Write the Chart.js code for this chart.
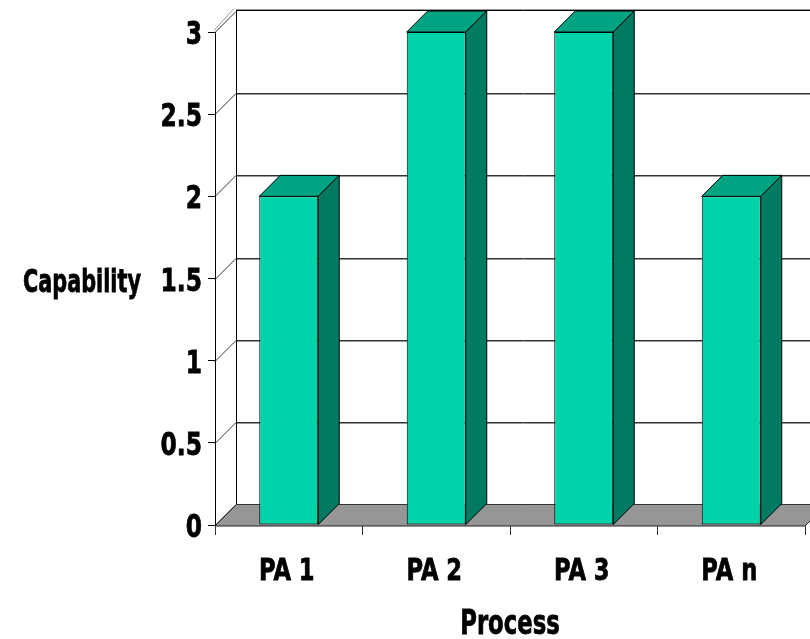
<!DOCTYPE html>
<html>
<head>
<meta charset="utf-8">
<script src="https://cdn.jsdelivr.net/npm/chart.js@4/dist/chart.umd.min.js"></script>
<style>
  html, body { margin: 0; padding: 0; background: #fff; }
  #wrap { width: 810px; height: 639px; }
</style>
</head>
<body>
<div id="wrap"><canvas id="capChart" width="810" height="639"></canvas></div>
<script>
// chart values
const categories = ['PA 1', 'PA 2', 'PA 3', 'PA n'];
const capability = [2, 3, 3, 2];
const yTicks = [0, 0.5, 1, 1.5, 2, 2.5, 3];

const FONT = '"DejaVu Sans", sans-serif';
const DX = 21, DY = 21;           // depth of the box
const FRONT = '#00d2aa', TOP = '#00a482', SIDE = '#007a60';

// labels are drawn narrow and heavy
function narrowText(ctx, text, x, y, align, size, squeeze) {
  ctx.save();
  ctx.font = 'bold ' + size + 'px ' + FONT;
  ctx.fillStyle = '#000';
  ctx.strokeStyle = '#000';
  ctx.lineWidth = 0.8;
  ctx.textAlign = align;
  ctx.textBaseline = 'alphabetic';
  ctx.translate(x, y);
  ctx.scale(squeeze || 0.73, 1);
  ctx.fillText(text, 0, 0);
  ctx.strokeText(text, 0, 0);
  ctx.restore();
}

function hline(ctx, x0, y0, x1, dark, light) {
  ctx.strokeStyle = dark;
  ctx.beginPath(); ctx.moveTo(x0, y0 + 0.5); ctx.lineTo(x1, y0 + 0.5); ctx.stroke();
  ctx.strokeStyle = light;
  ctx.beginPath(); ctx.moveTo(x0, y0 + 1.5); ctx.lineTo(x1, y0 + 1.5); ctx.stroke();
}

// back wall, floor and the 3d faces of the bars
const box3d = {
  id: 'box3d',
  beforeDatasetsDraw(chart) {
    const ctx = chart.ctx, a = chart.chartArea, y = chart.scales.y;
    ctx.save();
    ctx.lineWidth = 1;
    // floor
    ctx.fillStyle = '#969696';
    ctx.strokeStyle = '#222';
    ctx.beginPath();
    ctx.moveTo(a.left, a.bottom + 1);
    ctx.lineTo(a.right, a.bottom + 1);
    ctx.lineTo(a.right + DX, a.bottom - DY + 1);
    ctx.lineTo(a.left + DX, a.bottom - DY + 1);
    ctx.closePath();
    ctx.fill();
    ctx.stroke();
    // gridlines on the back wall
    yTicks.forEach(v => {
      const py = Math.round(y.getPixelForValue(v));
      ctx.strokeStyle = '#333';
      ctx.beginPath();
      ctx.moveTo(a.left, py + 0.5);
      ctx.lineTo(a.left + DX, py - DY + 0.5);
      ctx.stroke();
      if (v === yTicks[yTicks.length - 1]) {
        hline(ctx, a.left + DX, py - DY - 2, chart.width + 30, '#999', '#000');
        ctx.strokeStyle = '#999';
        ctx.beginPath();
        ctx.moveTo(a.left - 1, py - 1.5);
        ctx.lineTo(a.left + DX - 2, py - DY - 2.5);
        ctx.stroke();
      } else {
        hline(ctx, a.left + DX, py - DY, chart.width + 30, '#333', '#999');
      }
    });
    // left edge of the back wall
    ctx.strokeStyle = '#000';
    ctx.beginPath();
    ctx.moveTo(a.left + DX + 0.5, a.top - DY);
    ctx.lineTo(a.left + DX + 0.5, a.bottom - DY);
    ctx.stroke();
    ctx.restore();
  },
  afterDatasetsDraw(chart) {
    const ctx = chart.ctx;
    ctx.save();
    ctx.lineWidth = 1;
    ctx.strokeStyle = '#000';
    chart.getDatasetMeta(0).data.forEach(bar => {
      const p = bar.getProps(['x', 'y', 'base', 'width'], true);
      const l = p.x - p.width / 2, r = p.x + p.width / 2;
      ctx.fillStyle = TOP;
      ctx.beginPath();
      ctx.moveTo(l, p.y);
      ctx.lineTo(r, p.y);
      ctx.lineTo(r + DX, p.y - DY);
      ctx.lineTo(l + DX, p.y - DY);
      ctx.closePath();
      ctx.fill();
      ctx.stroke();
      ctx.fillStyle = SIDE;
      ctx.beginPath();
      ctx.moveTo(r, p.y);
      ctx.lineTo(r + DX, p.y - DY);
      ctx.lineTo(r + DX, p.base - DY);
      ctx.lineTo(r, p.base);
      ctx.closePath();
      ctx.fill();
      ctx.stroke();
    });
    ctx.restore();
  },
  afterDraw(chart) {
    const ctx = chart.ctx, x = chart.scales.x, y = chart.scales.y;
    // value labels on the front axis
    yTicks.forEach(v => narrowText(ctx, String(v), 202, y.getPixelForValue(v) + 12, 'right', 32));
    // category labels
    categories.forEach((c, i) => narrowText(ctx, c, x.getPixelForValue(i) - 2, 580, 'center', 31));
    // axis titles
    narrowText(ctx, 'Capability', 82, 292, 'center', 32, 0.65);
    narrowText(ctx, 'Process', 510, 634, 'center', 33, 0.69);
  }
};

new Chart(document.getElementById('capChart'), {
  type: 'bar',
  data: {
    labels: categories,
    datasets: [{
      data: capability,
      backgroundColor: FRONT,
      borderColor: '#000',
      borderWidth: 1,
      borderSkipped: false,
      categoryPercentage: 1,
      barPercentage: 0.4
    }]
  },
  options: {
    responsive: false,
    animation: false,
    layout: { padding: { top: 32, right: 5, left: 0, bottom: 0 } },
    plugins: { legend: { display: false }, tooltip: { enabled: false } },
    scales: {
      x: {
        afterFit(scale) { scale.height = 114; },
        grid: { display: true, drawOnChartArea: false, offset: true, tickLength: 10, color: '#333' },
        border: { display: true, color: '#000' },
        ticks: { display: false }
      },
      y: {
        min: 0,
        max: 3,
        afterFit(scale) { scale.width = 215; },
        afterBuildTicks(scale) { scale.ticks = yTicks.map(v => ({ value: v })); },
        grid: { display: true, drawOnChartArea: false, tickLength: 7, color: '#000' },
        border: { display: true, color: '#000' },
        ticks: { display: false }
      }
    }
  },
  plugins: [box3d]
});
</script>
</body>
</html>
